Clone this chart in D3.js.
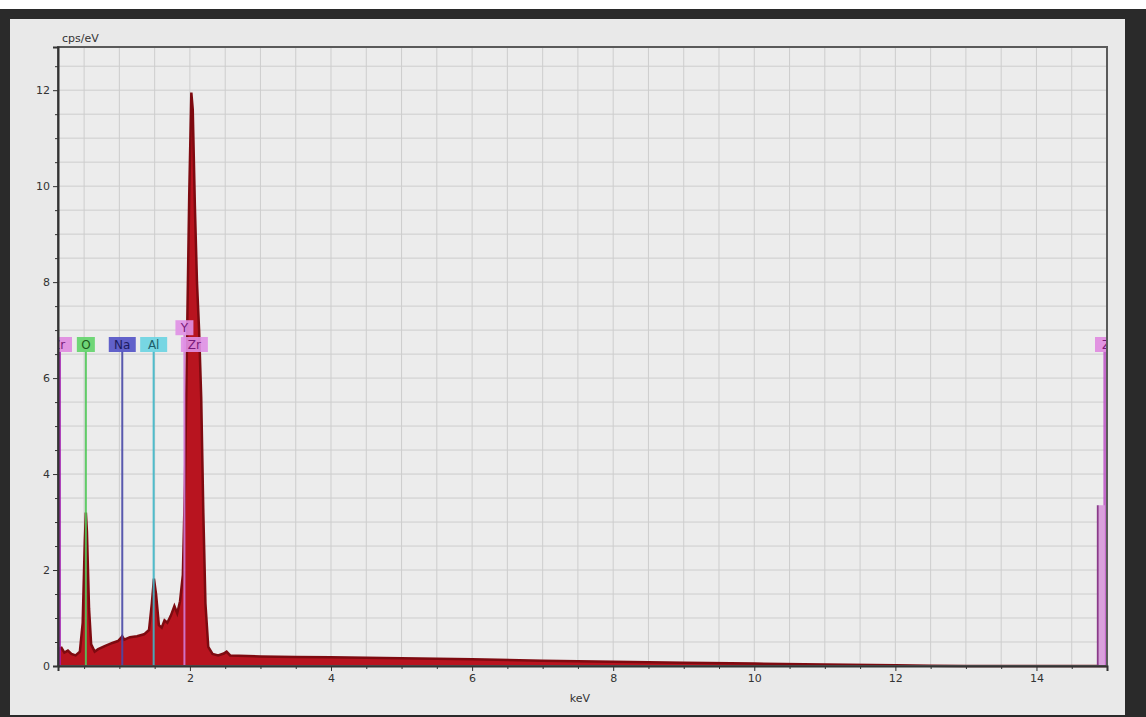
<!DOCTYPE html>
<html>
<head>
<meta charset="utf-8">
<script src="https://cdn.jsdelivr.net/npm/d3@7"></script>
<style>
  body { margin: 0; background: #fff; }
  svg { display: block; font-family: "DejaVu Sans", sans-serif; }
</style>
</head>
<body>
<div id="main"></div>
<script>
// spectre EDS : energie (keV) et intensite (cps/eV)
var energies = [0.13, 0.18, 0.22, 0.27, 0.32, 0.38, 0.44, 0.48, 0.51, 0.525, 0.54, 0.57, 0.6, 0.65, 0.7, 0.8, 0.9, 0.98, 1.02, 1.04, 1.07, 1.15, 1.25, 1.35, 1.42, 1.46, 1.49, 1.52, 1.56, 1.6, 1.64, 1.68, 1.73, 1.78, 1.82, 1.86, 1.9, 1.93, 1.96, 1.99, 2.02, 2.04, 2.07, 2.1, 2.13, 2.16, 2.19, 2.22, 2.26, 2.32, 2.4, 2.48, 2.52, 2.57, 3.0, 3.5, 4.0, 5.0, 6.0, 7.0, 8.0, 9.0, 10.0, 11.0, 12.0, 12.5, 13.0, 15.0];
var counts   = [0.35, 0.38, 0.28, 0.32, 0.25, 0.22, 0.3, 0.9, 2.6, 3.2, 2.8, 1.2, 0.45, 0.3, 0.35, 0.42, 0.48, 0.52, 0.58, 0.62, 0.55, 0.6, 0.62, 0.66, 0.75, 1.3, 1.82, 1.5, 0.85, 0.8, 0.95, 0.9, 1.05, 1.25, 1.1, 1.35, 1.9, 3.8, 6.9, 9.8, 11.95, 11.6, 9.6, 8.0, 7.0, 5.6, 3.2, 1.3, 0.4, 0.25, 0.22, 0.26, 0.3, 0.22, 0.2, 0.19, 0.18, 0.16, 0.14, 0.11, 0.09, 0.07, 0.05, 0.03, 0.015, 0.005, 0, 0];

// raies identifiees
var lineNames  = ["Zr", "O", "Na", "Al", "Y", "Zr", "Zr"];
var lineKeV    = [0.15, 0.525, 1.041, 1.486, 1.922, 2.042, 14.97];
var lineTops   = [6.7, 6.7, 6.7, 6.7, 7.05, 6.7, 6.7];
var lineColors = ["#a21fb0", "#52c85a", "#4a4aa8", "#3fb7c8", "#d47ad8", "#d47ad8", "#c05cc8"];
var boxColors  = ["#e08ae0", "#62d46a", "#5252c6", "#6ad4e2", "#e090e6", "#e090e6", "#e08ae0"];
var textColors = ["#7a1a7a", "#1c5a1c", "#1c1c60", "#1c5e6a", "#7a1a7a", "#7a1a7a", "#7a1a7a"];

var xTicks = [2, 4, 6, 8, 10, 12, 14];
var yTicks = [0, 2, 4, 6, 8, 10, 12];

var width = 1146, height = 717;
var margin = {left: 58, top: 47, right: 1107, bottom: 666};

function main () {
  const svg = d3.create("svg")
    .attr("width", width)
    .attr("height", height);

  // fond : bande blanche, cadre sombre, panneau gris
  svg.append("rect").attr("width", width).attr("height", height).attr("fill", "#fff");
  svg.append("rect").attr("y", 9).attr("width", width).attr("height", height - 9).attr("fill", "#2a2a2a");
  svg.append("rect").attr("x", 10).attr("y", 19).attr("width", 1115).attr("height", 696).attr("fill", "#e9e9e9");

  const x = d3.scaleLinear().domain([0.13, 15.0]).range([margin.left, margin.right]);
  const y = d3.scaleLinear().domain([0, 12.9]).range([margin.bottom, margin.top]);

  svg.append("clipPath").attr("id", "plot")
    .append("rect")
    .attr("x", margin.left).attr("y", margin.top)
    .attr("width", margin.right - margin.left).attr("height", margin.bottom - margin.top);

  svg.append("rect")
    .attr("x", margin.left).attr("y", margin.top)
    .attr("width", margin.right - margin.left).attr("height", margin.bottom - margin.top)
    .attr("fill", "#ececec");

  // grille
  const gx = d3.range(0.5, 15, 0.5), gy = d3.range(0.5, 12.9, 0.5);
  const grid = svg.append("g").attr("stroke", "#cdcdcd").attr("stroke-width", 1);
  grid.selectAll(".v").data(gx).join("line").attr("class", "v")
    .attr("x1", d => x(d)).attr("x2", d => x(d))
    .attr("y1", margin.top).attr("y2", margin.bottom);
  grid.selectAll(".h").data(gy).join("line").attr("class", "h")
    .attr("x1", margin.left).attr("x2", margin.right)
    .attr("y1", d => y(d)).attr("y2", d => y(d));

  // spectre
  const pts = energies.map((e, i) => [e, counts[i]]);
  const area = d3.area().x(d => x(d[0])).y0(y(0)).y1(d => y(d[1]));
  const top = d3.line().x(d => x(d[0])).y(d => y(d[1]));
  svg.append("path").datum(pts).attr("d", area).attr("fill", "#b8141f");
  svg.append("path").datum(pts).attr("d", top)
    .attr("fill", "none").attr("stroke", "#7e0a10").attr("stroke-width", 2.5);

  // raies
  const mk = svg.append("g").attr("clip-path", "url(#plot)");
  lineKeV.forEach((e, i) => {
    const cx = x(e), ty = y(lineTops[i]);
    if (i != 5) {
      mk.append("line")
        .attr("x1", cx).attr("x2", cx).attr("y1", ty + 7).attr("y2", margin.bottom)
        .attr("stroke", lineColors[i]).attr("stroke-width", i == 0 || i == 6 ? 3 : 2)
        .attr("opacity", 0.9);
    }
    const w = lineNames[i].length * 9 + 9;
    let bx = cx - w / 2;
    if (i == 0) bx = margin.left - 13;
    if (i == 5) bx = cx - 12;
    if (i == 6) bx = margin.right - 12;
    const g = mk.append("g");
    g.append("rect").attr("x", bx).attr("y", ty - 7.5).attr("width", w).attr("height", 15)
      .attr("fill", boxColors[i]).attr("opacity", 0.9);
    g.append("text").attr("x", bx + w / 2).attr("y", ty + 4.5)
      .attr("text-anchor", "middle").attr("font-size", 12)
      .attr("fill", textColors[i]).text(lineNames[i]);
  });
  // raie secondaire a droite
  mk.append("line")
    .attr("x1", x(14.87)).attr("x2", x(14.87)).attr("y1", y(3.35)).attr("y2", margin.bottom)
    .attr("stroke", "#8a3a8a").attr("stroke-width", 2);
  mk.append("rect")
    .attr("x", x(14.87) + 1).attr("y", y(3.35)).attr("width", x(14.97) - x(14.87) - 1)
    .attr("height", margin.bottom - y(3.35)).attr("fill", "#d9a0dc");

  // cadre
  svg.append("rect")
    .attr("x", margin.left).attr("y", margin.top)
    .attr("width", margin.right - margin.left).attr("height", margin.bottom - margin.top)
    .attr("fill", "none").attr("stroke", "#5a5a5a").attr("stroke-width", 2);

  // axes
  svg.append("g").attr("transform", `translate(0,${margin.bottom})`)
    .call(d3.axisBottom(x).tickValues(xTicks).tickSize(5).tickFormat(d3.format("d")));
  svg.append("g").attr("transform", `translate(0,${margin.bottom})`)
    .call(d3.axisBottom(x).tickValues(d3.range(0.5, 15, 0.5).filter(d => d % 2)).tickSize(3).tickFormat(""))
    .call(g => g.select(".domain").remove());
  svg.append("g").attr("transform", `translate(${margin.left},0)`)
    .call(d3.axisLeft(y).tickValues(yTicks).tickSize(5).tickFormat(d3.format("d")));
  svg.append("g").attr("transform", `translate(${margin.left},0)`)
    .call(d3.axisLeft(y).tickValues(d3.range(0.5, 12.9, 0.5).filter(d => d % 2)).tickSize(3).tickFormat(""))
    .call(g => g.select(".domain").remove());

  svg.selectAll(".tick line").attr("stroke", "#333");
  svg.selectAll(".domain").attr("stroke", "#333").attr("stroke-width", 2);
  svg.selectAll(".tick text").attr("font-size", 11).attr("fill", "#333")
    .attr("font-family", "DejaVu Sans, sans-serif");

  svg.append("text").attr("x", 62).attr("y", 42)
    .attr("font-size", 11).attr("fill", "#333").text("cps/eV");
  svg.append("text").attr("x", 580).attr("y", 702).attr("text-anchor", "middle")
    .attr("font-size", 11).attr("fill", "#333").text("keV");

  return svg.node();
}

window.onload = function () {
  document.getElementById("main").appendChild(main());
}
</script>
</body>
</html>
